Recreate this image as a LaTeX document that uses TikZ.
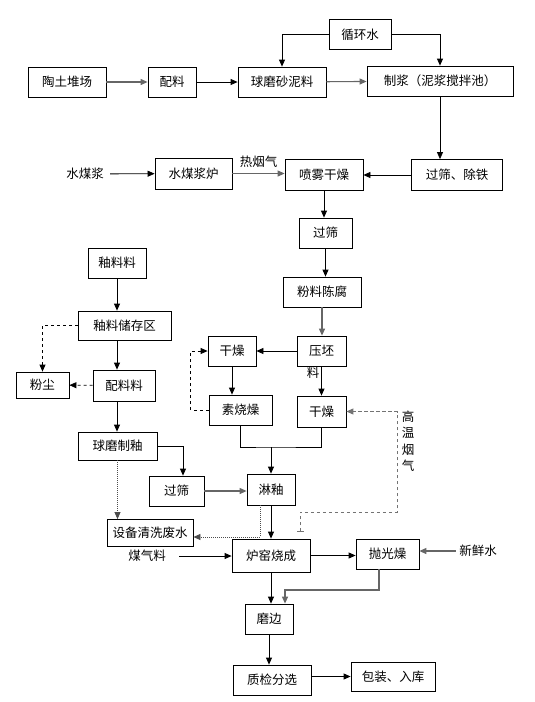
\documentclass[tikz,border=0pt]{standalone}
\usepackage{fontspec}
\newfontfamily\cjk{Noto Sans CJK SC}
\usetikzlibrary{arrows.meta}
\usetikzlibrary{calc}
\tikzset{
	box/.style={draw, line width=0.8pt, inner sep=1pt, font=\cjk\fontsize{12.5}{15}\selectfont},
	lbl/.style={inner sep=1pt, font=\cjk\fontsize{12.5}{15}\selectfont},
	vlbl/.style={inner sep=1pt, align=center, font=\cjk\fontsize{12.5}{16.5}\selectfont},
	garrow/.style={->, draw=black!60, line width=1.1pt},
	dline/.style={->, dash pattern=on 3pt off 3pt},
	dotline/.style={->, draw=black!70, dash pattern=on 1pt off 1pt},
	yline/.style={draw=black!55, line width=1pt, dash pattern=on 3.5pt off 2.5pt}
}
\newcommand{\blk}[6] % name, x, y, width, height, text (px, y down)
{
	\node[box, minimum width=#4pt, minimum height=#5pt] (#1) at (#2,#3) {#6};
}

\begin{document}
\begin{tikzpicture}[x=1pt, y=-1pt, line width=0.8pt, >={Triangle[length=7pt,width=6pt]}]
	% page 535 x 702
	\useasboundingbox (0,0) rectangle (535,702);
	
	% clay line
	\blk{xunhuan}{360}{34.5}{62}{30}{循环水}
	\blk{taotu}{67}{82}{78}{30}{陶土堆场}
	\blk{peiliao}{172}{82}{48}{30}{配料}
	\blk{qiumo}{282}{82}{88}{30}{球磨砂泥料}
	\blk{zhijiang}{440}{81}{146}{30}{制浆（泥浆搅拌池）}
	\node[lbl] (shuimeijiang) at (85,174) {水煤浆};
	\blk{lu}{193.5}{173.5}{77}{31}{水煤浆炉}
	\blk{penwu}{324}{174.5}{78}{31}{喷雾干燥}
	\blk{chutie}{457}{175}{91}{31}{过筛、除铁}
	\blk{guoshai}{325.5}{233}{53}{30}{过筛}
	\blk{chenfu}{322}{292}{78}{30}{粉料陈腐}
	\blk{yapi}{321.5}{351}{49}{30}{压坯}
	\node[lbl] (liao) at (313,373) {料};
	\blk{ganzaoa}{232}{351}{48}{30}{干燥}
	\blk{sushao}{240.5}{410}{63}{30}{素烧燥}
	\blk{ganzaob}{321.5}{411.5}{49}{31}{干燥}
	
	% glaze line
	\blk{youliao}{117}{263}{58}{30}{釉料料}
	\blk{chucun}{124.5}{325.5}{93}{29}{釉料储存区}
	\blk{fenchen}{42.5}{385}{53}{26}{粉尘}
	\blk{peiliaoliao}{124}{385.5}{62}{31}{配料料}
	\blk{qmzy}{117.5}{446}{79}{28}{球磨制釉}
	\blk{guoshaib}{176.5}{491}{55}{30}{过筛}
	\blk{linyou}{271}{489.5}{48}{31}{淋釉}
	\blk{shebei}{150}{533}{86}{27}{设备清洗废水}
	
	% firing and finishing
	\node[lbl] (meiqi) at (147,556) {煤气料};
	\blk{luyao}{271}{555.5}{78}{33}{炉窑烧成}
	\blk{paoguang}{387.5}{554}{63}{30}{抛光燥}
	\node[lbl] (xinxian) at (478,551) {新鲜水};
	\blk{mobian}{269}{619}{48}{30}{磨边}
	\blk{zhijian}{272}{680}{78}{30}{质检分选}
	\blk{baozhuang}{393}{676.5}{84}{29}{包装、入库}
	\node[vlbl] (gaowen) at (408,441) {高\\温\\烟\\气};
	
	% top connectors
	\draw[->] (xunhuan.west) -| (qiumo);
	\draw[->] (xunhuan.east) -| (zhijiang);
	\draw[garrow] (taotu) -- (peiliao);
	\draw[->] (peiliao) -- (qiumo);
	\draw[garrow] (qiumo) -- (zhijiang);
	\draw[->] (zhijiang.south) -- (zhijiang.south |- chutie.north);
	\draw[->] (chutie.west) -- (chutie.west -| penwu.east);
	\draw[->, shorten <=5pt] (shuimeijiang) -- (lu);
	\draw[garrow] (lu.east) -- node[lbl, above=4pt] (reyanqi) {热烟气} (lu.east -| penwu.west);
	\draw[->] (penwu.south) -- (penwu.south |- guoshai.north);
	\draw[->] (guoshai.south) -- (guoshai.south |- chenfu.north);
	\draw[garrow] (chenfu.south) -- (chenfu.south |- yapi.north);
	\draw[->] (yapi) -- (ganzaoa);
	\draw[->] (yapi.south) -- (yapi.south |- ganzaob.north);
	\draw[->] (ganzaoa.south) -- (ganzaoa.south |- sushao.north);
	\draw[dline] (sushao.west) -- ++(-18,0) |- (ganzaoa.west);
	\coordinate (huiju) at (271,447);
	\draw (sushao.south) |- (huiju) -| (ganzaob.south);
	\draw[->] (huiju) -- (linyou.north);
	
	% glaze connectors
	\draw[->] (youliao.south) -- (youliao.south |- chucun.north);
	\draw[->] (chucun.south -| youliao) -- (peiliaoliao.north -| youliao);
	\draw[->] (peiliaoliao.south -| youliao) -- (qmzy.north -| youliao);
	\draw[dline] (chucun.west) -| (fenchen);
	\draw[dline] (peiliaoliao) -- (fenchen);
	\draw[->] (qmzy.east) -| ([xshift=6.5pt]guoshaib.north);
	\draw[garrow] (guoshaib.east) -- (guoshaib.east -| linyou.west);
	\draw[dotline] (qmzy.south) -- (qmzy.south |- shebei.north);
	\draw[dotline] ([xshift=-11pt]linyou.south) |- ([yshift=-4pt]shebei.east);
	
	% kiln connectors
	\draw[->] (linyou.south) -- (linyou.south |- luyao.north);
	\draw[->, shorten <=12pt] (meiqi) -- (meiqi -| luyao.west);
	\draw[->] (luyao.east) -- (luyao.east -| paoguang.west);
	\draw[garrow, shorten <=2pt] (xinxian.west) -- (xinxian.west -| paoguang.east);
	\draw[->] (luyao.south) -- (luyao.south |- mobian.north);
	\coordinate (pgzhe) at (285,590);
	\draw[garrow] ([xshift=-8.5pt]paoguang.south) |- (pgzhe) -- (pgzhe |- mobian.north);
	\draw[->] (mobian.south) -- (mobian.south |- zhijian.north);
	\draw[->] (baozhuang.west -| zhijian.east) -- (baozhuang.west);
	
	% hot flue gas
	\coordinate (yanqi) at (300,532);
	\draw[yline, {Bar[width=7pt]}-{Triangle[length=7pt,width=6pt]}] (yanqi) |- ++(97,-20) |- (ganzaob.east);
\end{tikzpicture}
\end{document}
